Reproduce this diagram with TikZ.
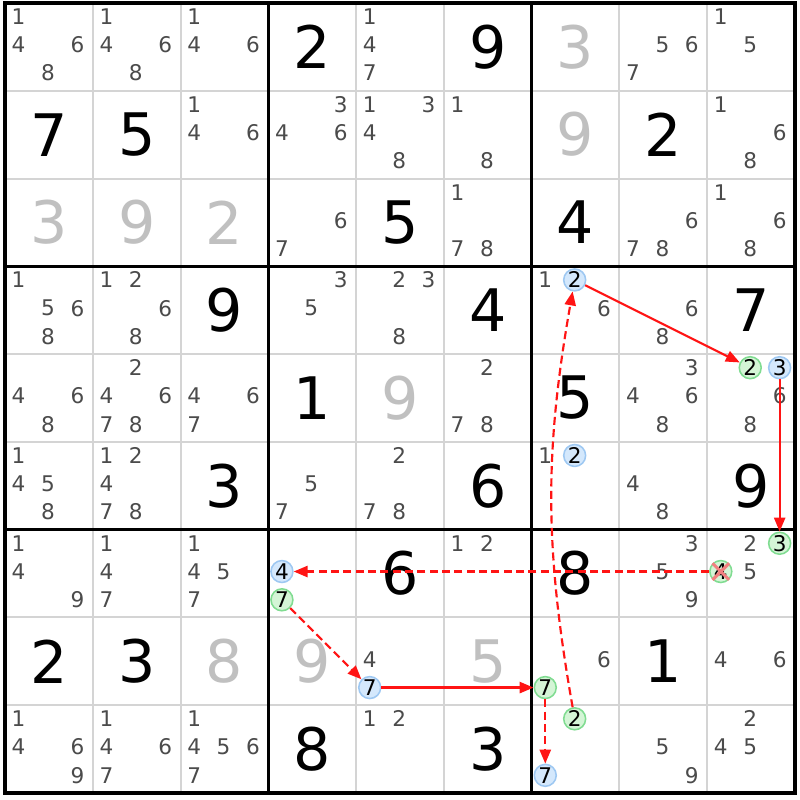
\documentclass[tikz,border=0pt]{standalone}
\usepackage{fontspec}
\setmainfont{DejaVu Sans}
\usetikzlibrary{arrows.meta}
\definecolor{candgray}{RGB}{75,75,75}
\definecolor{solvedgray}{RGB}{192,192,192}
\definecolor{thingray}{RGB}{212,212,212}
\definecolor{greenfill}{RGB}{212,245,214}
\definecolor{greenline}{RGB}{128,220,145}
\definecolor{bluefill}{RGB}{212,232,252}
\definecolor{blueline}{RGB}{158,200,242}
\definecolor{linkred}{RGB}{255,20,20}
\definecolor{strikered}{RGB}{242,128,128}
\tikzset{cand/.style={inner sep=0, text=candgray, font=\fontsize{7}{7}\selectfont}}
\tikzset{oncand/.style={cand, circle, draw=greenline, fill=greenfill, line width=0.5pt, minimum size=0.25cm, text=black}}
\tikzset{offcand/.style={cand, circle, draw=blueline, fill=bluefill, line width=0.5pt, minimum size=0.25cm, text=black}}
\tikzset{given/.style={inner sep=0, font=\fontsize{19}{19}\selectfont}}
\tikzset{solved/.style={given, text=solvedgray}}
\tikzset{cellline/.style={draw=thingray, line width=0.65pt}}
\tikzset{boxline/.style={draw=black, line width=1pt}}
\tikzset{strong/.style={draw=linkred, line width=0.7pt, -{Triangle[length=4.5pt, width=3.6pt]}}}
\tikzset{weak/.style={strong, dash pattern=on 2.6pt off 1.4pt}}
\tikzset{strike/.style={draw=strikered, line width=1pt}}
\newcommand{\cands}[4][cand]{\foreach \d in {#4} {\pgfmathsetmacro{\candx}{#3-0.845+0.335*mod(\d-1,3)}\pgfmathsetmacro{\candy}{#2-0.845+0.322*floor((\d-1)/3)}\node[#1] (n#2#3\d) at (\candx,\candy) {\d};}}

\begin{document}
\begin{tikzpicture}[x=1cm, y=-1cm]
            \fill[white] (-0.057,-0.034) rectangle (9.057,9.08);
            \foreach \i in {1,2,4,5,7,8} {
                \draw[cellline] (\i,0) -- (\i,9);
                \draw[cellline] (0,\i) -- (9,\i);
            }
            \foreach \i in {3,6} {
                \draw[boxline] (\i,0) -- (\i,9);
                \draw[boxline] (0,\i) -- (9,\i);
            }
            \draw[boxline] (0,0) rectangle (9,9);
            \foreach \r/\c/\v in {1/4/2, 1/6/9, 2/1/7, 2/2/5, 2/8/2, 3/5/5, 3/7/4, 4/3/9, 4/6/4, 4/9/7, 5/4/1, 5/7/5, 6/3/3, 6/6/6, 6/9/9, 7/5/6, 7/7/8, 8/1/2, 8/2/3, 8/8/1, 9/4/8, 9/6/3} {
                \node[given] (v\r\c) at (\c-0.5,\r-0.5) {\v};
            }
            \foreach \r/\c/\v in {1/7/3, 2/7/9, 3/1/3, 3/2/9, 3/3/2, 5/5/9, 8/3/8, 8/4/9, 8/6/5} {
                \node[solved] (v\r\c) at (\c-0.5,\r-0.5) {\v};
            }
            \cands{1}{1}{1,4,6,8} \cands{1}{2}{1,4,6,8} \cands{1}{3}{1,4,6} \cands{1}{5}{1,4,7} \cands{1}{8}{5,6,7} \cands{1}{9}{1,5}
            \cands{2}{3}{1,4,6} \cands{2}{4}{3,4,6} \cands{2}{5}{1,3,4,8} \cands{2}{6}{1,8} \cands{2}{9}{1,6,8}
            \cands{3}{4}{6,7} \cands{3}{6}{1,7,8} \cands{3}{8}{6,7,8} \cands{3}{9}{1,6,8}
            \cands{4}{1}{1,5,6,8} \cands{4}{2}{1,2,6,8} \cands{4}{4}{3,5} \cands{4}{5}{2,3,8} \cands{4}{7}{1,6} \cands{4}{8}{6,8}
            \cands{5}{1}{4,6,8} \cands{5}{2}{2,4,6,7,8} \cands{5}{3}{4,6,7} \cands{5}{6}{2,7,8} \cands{5}{8}{3,4,6,8} \cands{5}{9}{6,8}
            \cands{6}{1}{1,4,5,8} \cands{6}{2}{1,2,4,7,8} \cands{6}{4}{5,7} \cands{6}{5}{2,7,8} \cands{6}{7}{1} \cands{6}{8}{4,8}
            \cands{7}{1}{1,4,9} \cands{7}{2}{1,4,7} \cands{7}{3}{1,4,5,7} \cands{7}{6}{1,2} \cands{7}{8}{3,5,9} \cands{7}{9}{2,5}
            \cands{8}{5}{4} \cands{8}{7}{6} \cands{8}{9}{4,6}
            \cands{9}{1}{1,4,6,9} \cands{9}{2}{1,4,6,7} \cands{9}{3}{1,4,5,6,7} \cands{9}{5}{1,2} \cands{9}{8}{5,9} \cands{9}{9}{2,4,5}
            \cands[offcand]{4}{7}{2} \cands[offcand]{5}{9}{3} \cands[offcand]{6}{7}{2} \cands[offcand]{7}{4}{4} \cands[offcand]{8}{5}{7} \cands[offcand]{9}{7}{7}
            \cands[oncand]{5}{9}{2} \cands[oncand]{7}{9}{3} \cands[oncand]{7}{9}{4} \cands[oncand]{7}{4}{7} \cands[oncand]{8}{7}{7} \cands[oncand]{9}{7}{2}
            \draw[strike] (n794.north west) -- (n794.south east) (n794.north east) -- (n794.south west);
            \draw[strong] (n472) -- (n592);
            \draw[strong] (n593) -- (n793);
            \draw[weak] (n794) -- (n744);
            \draw[weak] (n747) -- (n857);
            \draw[strong] (n857) -- (n877);
            \draw[weak] (n877) -- (n977);
            \draw[weak] (n972) to[bend left=10] (n472);
        \end{tikzpicture}
\end{document}
